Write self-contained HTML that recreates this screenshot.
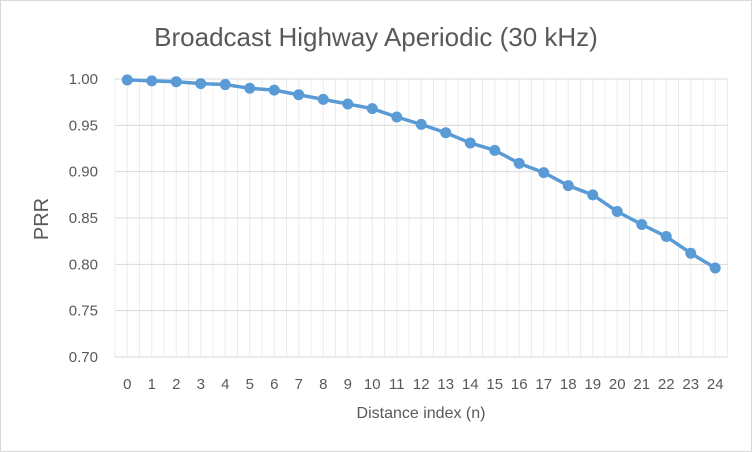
<!DOCTYPE html>
<html><head><meta charset="utf-8"><style>
body{margin:0;background:#fff}
svg{display:block;font-family:"Liberation Sans",sans-serif}
</style></head><body>
<svg id="c" width="752" height="452">
<rect x="0.5" y="0.5" width="751" height="451" fill="#fff" stroke="#d9d9d9"/>
<text x="376" y="46" text-anchor="middle" font-size="26" fill="#595959">Broadcast Highway Aperiodic (30 kHz)</text>
<text x="48" y="219" text-anchor="middle" font-size="20" fill="#595959" transform="rotate(-90 48 219)">PRR</text>
<text x="421" y="418" text-anchor="middle" font-size="16" fill="#595959">Distance index (n)</text>
<g id="grid"></g><g id="ylab"></g><g id="xlab"></g><g id="series"></g>
</svg>
<script>
const categories=[0,1,2,3,4,5,6,7,8,9,10,11,12,13,14,15,16,17,18,19,20,21,22,23,24];
const prrValues=[0.999,0.998,0.997,0.995,0.994,0.990,0.988,0.983,0.978,0.973,0.968,0.959,0.951,0.942,0.931,0.923,0.909,0.899,0.885,0.875,0.857,0.843,0.830,0.812,0.796];
const yTicks=[0.70,0.75,0.80,0.85,0.90,0.95,1.00];
const NS="http://www.w3.org/2000/svg";
const L=115,R=727.5,T=79,B=357,ymin=0.70,ymax=1.00;
const cw=(R-L)/categories.length;
const x=i=>L+cw*(i+0.5);
const y=v=>B-(v-ymin)/(ymax-ymin)*(B-T);
function mk(t,a,p){const e=document.createElementNS(NS,t);for(const k in a)e.setAttribute(k,a[k]);p.appendChild(e);return e;}
const g=document.getElementById('grid');
for(let k=0;k<=categories.length*2;k++){
 const e=mk('line',{x1:L+k*cw/2,x2:L+k*cw/2,y1:T,y2:B,stroke:'#ececec','stroke-width':1},g);
 
 
}
const yl=document.getElementById('ylab');
yTicks.forEach(v=>{
 const e=mk('line',{x1:L,x2:R,y1:y(v),y2:y(v),stroke:'#d9d9d9','stroke-width':1},g);
 
 
 const t=mk('text',{x:98,y:y(v)+5,'text-anchor':'end','font-size':15,fill:'#595959'},yl);
 t.textContent=v.toFixed(2);
 
 
});
const xl=document.getElementById('xlab');
categories.forEach((c,i)=>{
 const t=mk('text',{x:x(i),y:389,'text-anchor':'middle','font-size':15,fill:'#595959'},xl);
 t.textContent=c;
 
 
});
const s=document.getElementById('series');
const pl=mk('polyline',{points:prrValues.map((v,i)=>x(i)+','+y(v)).join(' '),fill:'none',stroke:'#5b9bd5','stroke-width':3.5,'stroke-linejoin':'round'},s);


prrValues.forEach((v,i)=>{
 const c=mk('circle',{cx:x(i),cy:y(v),r:5.5,fill:'#5b9bd5'},s);
 
 
});
</script>
</body></html>
